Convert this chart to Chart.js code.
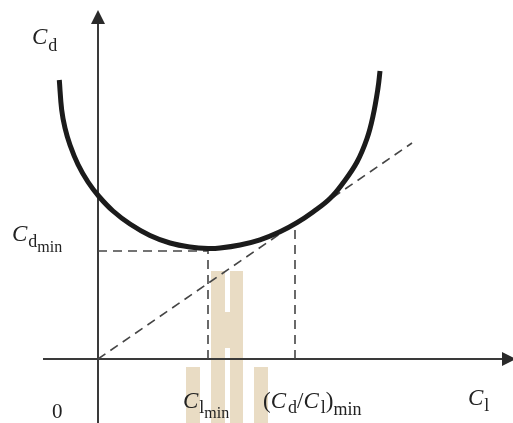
<!DOCTYPE html>
<html>
<head>
<meta charset="utf-8">
<script src="https://cdn.jsdelivr.net/npm/chart.js@4"></script>
<style>
  html, body { margin: 0; padding: 0; background: #fff; }
  #wrap { width: 513px; height: 423px; position: relative; }
</style>
</head>
<body>
<div id="wrap"><canvas id="polar"></canvas></div>
<script>
// drag polar (C_l, C_d in plot units)
const curveCl = [-0.387, -0.363, -0.33, -0.28, -0.20, -0.10, 0.01, 0.15, 0.32, 0.52, 0.72, 0.92, 1.10,
  1.22, 1.42, 1.62, 1.82, 1.99, 2.15, 2.32, 2.45, 2.59, 2.69, 2.75, 2.80, 2.82]
const curveCd = [2.79, 2.49, 2.31, 2.14, 1.945, 1.77, 1.625, 1.48, 1.35, 1.235, 1.16, 1.12, 1.105,
  1.11, 1.14, 1.192, 1.272, 1.363, 1.47, 1.605, 1.76, 1.97, 2.205, 2.43, 2.71, 2.88]

// tangent from the origin
const tangentCl = [0, 3.14]
const tangentCd = [0, 2.16]

// minimum drag and max lift/drag points
const cdMin = 1.08
const clAtCdMin = 1.10
const clAtBestRatio = 1.97
const cdAtBestRatio = 1.34

const pts = (xs, ys) => xs.map((x, i) => ({ x: x, y: ys[i] }))

const dashed = {
  borderColor: '#454545',
  borderWidth: 1.6,
  borderDash: [9, 6],
  pointRadius: 0,
  tension: 0,
  fill: false,
}

const serif = "'Liberation Serif', 'DejaVu Serif', serif"

// draws a run of text pieces (main letter + subscripts) left to right
function drawLabel(ctx, x, y, pieces) {
  let cx = x
  pieces.forEach(p => {
    ctx.font = p.f
    ctx.fillText(p.t, cx, y + (p.dy || 0))
    cx += ctx.measureText(p.t).width + (p.gap || 0)
  })
}

const big = 'italic 23px ' + serif
const up = '23px ' + serif
const sub = '18px ' + serif
const subsub = '16px ' + serif

const axesPlugin = {
  id: 'axesPlugin',
  beforeDraw(chart) {
    const ctx = chart.ctx
    ctx.save()
    ctx.fillStyle = '#fff'
    ctx.fillRect(0, 0, chart.width, chart.height)
    // faint logo behind the plot
    ctx.fillStyle = '#e9dcc4'
    ctx.fillRect(211, 271, 14, 152)
    ctx.fillRect(230, 271, 13, 152)
    ctx.fillRect(225, 312, 5, 36)
    ctx.fillRect(186, 367, 14, 56)
    ctx.fillRect(254, 367, 14, 56)
    ctx.restore()
  },
  beforeDatasetsDraw(chart) {
    const ctx = chart.ctx
    const xs = chart.scales.x
    const ys = chart.scales.y
    const x0 = xs.getPixelForValue(0)
    const y0 = ys.getPixelForValue(0)
    ctx.save()
    ctx.strokeStyle = '#3a3a3a'
    ctx.fillStyle = '#2a2a2a'
    ctx.lineWidth = 2
    // vertical axis
    const yTop = ys.getPixelForValue(3.49)
    ctx.beginPath()
    ctx.moveTo(x0, chart.height)
    ctx.lineTo(x0, yTop + 10)
    ctx.stroke()
    ctx.beginPath()
    ctx.moveTo(x0, yTop)
    ctx.lineTo(x0 - 7, yTop + 14)
    ctx.lineTo(x0 + 7, yTop + 14)
    ctx.closePath()
    ctx.fill()
    // horizontal axis
    const xRight = xs.getPixelForValue(4.18)
    ctx.beginPath()
    ctx.moveTo(xs.getPixelForValue(-0.55), y0)
    ctx.lineTo(xRight - 10, y0)
    ctx.stroke()
    ctx.beginPath()
    ctx.moveTo(xRight, y0)
    ctx.lineTo(xRight - 14, y0 - 7)
    ctx.lineTo(xRight - 14, y0 + 7)
    ctx.closePath()
    ctx.fill()
    ctx.restore()
  },
  afterDraw(chart) {
    const ctx = chart.ctx
    const xs = chart.scales.x
    const ys = chart.scales.y
    ctx.save()
    ctx.fillStyle = '#222'
    ctx.textBaseline = 'alphabetic'
    drawLabel(ctx, 32, 44, [{ t: 'C', f: big, gap: 1 }, { t: 'd', f: sub, dy: 7 }])
    const yMin = ys.getPixelForValue(cdMin)
    drawLabel(ctx, 12, yMin - 10, [{ t: 'C', f: big, gap: 1 }, { t: 'd', f: sub, dy: 6 }, { t: 'min', f: subsub, dy: 11 }])
    ctx.font = '21px ' + serif
    ctx.fillText('0', 52, 418)
    const xa = xs.getPixelForValue(clAtCdMin)
    drawLabel(ctx, xa - 25, 408, [{ t: 'C', f: big, gap: 1 }, { t: 'l', f: sub, dy: 5 }, { t: 'min', f: subsub, dy: 10 }])
    const xb = xs.getPixelForValue(clAtBestRatio)
    drawLabel(ctx, xb - 32, 408, [
      { t: '(', f: up }, { t: 'C', f: big, gap: 2 }, { t: 'd', f: sub, dy: 5 },
      { t: '/', f: up }, { t: 'C', f: big, gap: 2 }, { t: 'l', f: sub, dy: 5 },
      { t: ')', f: up }, { t: 'min', f: sub, dy: 7 },
    ])
    drawLabel(ctx, 468, 405, [{ t: 'C', f: big, gap: 1 }, { t: 'l', f: sub, dy: 6 }])
    ctx.restore()
  },
}

const polarConfig = {
  type: 'line',
  data: {
    datasets: [
      {
        data: pts(curveCl, curveCd),
        borderColor: '#1b1b1b',
        borderWidth: 5,
        pointRadius: 0,
        tension: 0.4,
        fill: false,
      },
      { ...dashed, data: pts(tangentCl, tangentCd) },
      { ...dashed, data: [{ x: 0, y: cdMin }, { x: clAtCdMin, y: cdMin }] },
      { ...dashed, data: [{ x: clAtCdMin, y: 0 }, { x: clAtCdMin, y: cdMin }] },
      { ...dashed, data: [{ x: clAtBestRatio, y: 0 }, { x: clAtBestRatio, y: cdAtBestRatio }] },
    ],
  },
  options: {
    responsive: true,
    maintainAspectRatio: false,
    animation: false,
    devicePixelRatio: 1,
    layout: { padding: 0 },
    plugins: {
      legend: { display: false },
      tooltip: { enabled: false },
    },
    scales: {
      x: { type: 'linear', min: -0.98, max: 4.15, display: false },
      y: { type: 'linear', min: -0.64, max: 3.59, display: false },
    },
  },
  plugins: [axesPlugin],
}

const polarCanvas = document.getElementById('polar')
window.myPolar = new Chart(polarCanvas, polarConfig)
</script>
</body>
</html>
